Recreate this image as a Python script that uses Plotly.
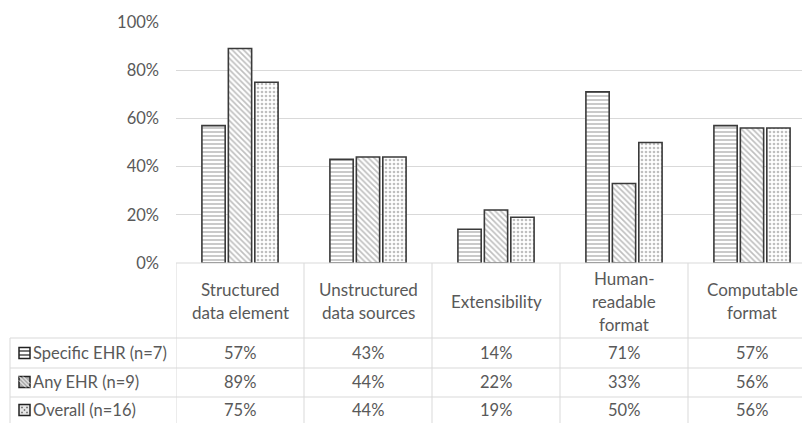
import plotly.graph_objects as go

# Chart data
categories = ["Structured data element", "Unstructured data sources", "Extensibility",
              "Human-readable format", "Computable format"]
category_lines = [["Structured", "data element"], ["Unstructured", "data sources"],
                  ["Extensibility"], ["Human-", "readable", "format"], ["Computable", "format"]]
series_names = ["Specific EHR (n=7)", "Any EHR (n=9)", "Overall (n=16)"]
specific_ehr = [0.57, 0.43, 0.14, 0.71, 0.57]
any_ehr = [0.89, 0.44, 0.22, 0.33, 0.56]
overall = [0.75, 0.44, 0.19, 0.50, 0.56]
y_ticks = [0, 0.2, 0.4, 0.6, 0.8, 1.0]

W, H = 802, 423
L, T, B = 176, 22, 160          # plot-area margins in px
PW, PH = W - L, H - T - B
FONT = "Lato"
TXT = "#595959"
GRID = "#d9d9d9"
EDGE = "#3a3a3a"
FS_HEAD = 17
FS = 16.5

series = [specific_ehr, any_ehr, overall]
patterns = [dict(shape="-", size=4, solidity=0.42),
            dict(shape="\\", size=4, solidity=0.42),
            dict(shape=".", size=4, solidity=0.35)]

xs = list(range(len(categories)))
fig = go.Figure()
for name, vals, pat in zip(series_names, series, patterns):
    fig.add_trace(go.Bar(
        x=xs, y=vals, name=name,
        marker=dict(color="white", line=dict(color=EDGE, width=1.6),
                    pattern=dict(fgcolor="#808080", bgcolor="white", **pat)),
        showlegend=False,
    ))

def py(px_y):
    """pixel row -> paper y"""
    return (H - B - px_y) / PH

def pxp(px_x):
    """pixel column -> paper x"""
    return (px_x - L) / PW

shapes = []
ann = []
line = dict(color=GRID, width=1)
bottom = py(H)

# table grid: column separators between categories
for i in range(len(categories)):
    shapes.append(dict(type="line", xref="x", yref="paper", x0=i - 0.5, x1=i - 0.5,
                       y0=0, y1=bottom, line=line))
# horizontal rules of the data table
shapes.append(dict(type="line", xref="paper", yref="paper", x0=0, x1=1, y0=0, y1=0, line=line))
for ry in [338, 368, 397]:
    shapes.append(dict(type="line", xref="paper", yref="paper", x0=pxp(10), x1=1,
                       y0=py(ry), y1=py(ry), line=line))
shapes.append(dict(type="line", xref="paper", yref="paper", x0=pxp(10), x1=pxp(10),
                   y0=py(338), y1=bottom, line=line))

# category header text
header_mid = 301
step = 23
for i, lines in enumerate(category_lines):
    n = len(lines)
    for k, t in enumerate(lines):
        yy = header_mid + (k - (n - 1) / 2) * step
        ann.append(dict(x=i, xref="x", y=py(yy), yref="paper", text=t, showarrow=False,
                        xanchor="center", yanchor="middle",
                        font=dict(family=FONT, size=FS_HEAD, color=TXT)))

# data rows
row_mid = [353, 382, 410]
for r, (name, vals) in enumerate(zip(series_names, series)):
    ann.append(dict(x=pxp(31), xref="paper", y=py(row_mid[r]), yref="paper", text=name,
                    showarrow=False, xanchor="left", yanchor="middle",
                    font=dict(family=FONT, size=FS, color=TXT)))
    for i, v in enumerate(vals):
        ann.append(dict(x=i, xref="x", y=py(row_mid[r]), yref="paper", text=f"{v:.0%}",
                        showarrow=False, xanchor="center", yanchor="middle",
                        font=dict(family=FONT, size=FS, color=TXT)))

    # legend key box
    x0, x1 = pxp(19), pxp(30)
    y0, y1 = py(row_mid[r] + 5.5), py(row_mid[r] - 5.5)
    fills = ["white", "#b0b0b0", "#e6e6e6"]
    shapes.append(dict(type="rect", xref="paper", yref="paper", x0=x0, x1=x1, y0=y0, y1=y1,
                       fillcolor=fills[r], line=dict(color="#222222", width=1.5)))
    if r == 0:
        for off in (-2, 2):
            shapes.append(dict(type="line", xref="paper", yref="paper", x0=x0, x1=x1,
                               y0=py(row_mid[r] + off), y1=py(row_mid[r] + off),
                               line=dict(color="#222222", width=1.2)))
    elif r == 1:
        for off in (-4, 0, 4):
            shapes.append(dict(type="line", xref="paper", yref="paper",
                               x0=pxp(19 + max(0, off)), x1=pxp(30 + min(0, off)),
                               y0=py(row_mid[r] - 5.5 + max(0, -off)),
                               y1=py(row_mid[r] + 5.5 - max(0, off)),
                               line=dict(color="#ffffff", width=1)))
    else:
        for dx, dy in [(-2.5, -2.5), (2.5, -2.5), (0, 0), (-2.5, 2.5), (2.5, 2.5)]:
            cx, cy = 24.5 + dx, row_mid[r] + dy
            shapes.append(dict(type="rect", xref="paper", yref="paper",
                               x0=pxp(cx - 0.7), x1=pxp(cx + 0.7),
                               y0=py(cy + 0.7), y1=py(cy - 0.7),
                               fillcolor="#555555", line=dict(width=0)))

fig.update_layout(
    width=W, height=H,
    margin=dict(l=L, r=0, t=T, b=B, pad=0),
    plot_bgcolor="white", paper_bgcolor="white",
    barmode="group", bargap=0.38, bargroupgap=0.12,
    shapes=shapes, annotations=ann,
    xaxis=dict(range=[-0.5, -0.5 + PW / 128], showticklabels=False, showgrid=False,
               zeroline=False, showline=False, ticks=""),
    yaxis=dict(range=[0, 1.0], tickvals=y_ticks, tickformat=".0%", showgrid=True,
               gridcolor=GRID, gridwidth=1, zeroline=False, showline=False,
               tickfont=dict(family=FONT, size=FS, color=TXT), ticklabelstandoff=16),
)

fig.write_html("out.html")
